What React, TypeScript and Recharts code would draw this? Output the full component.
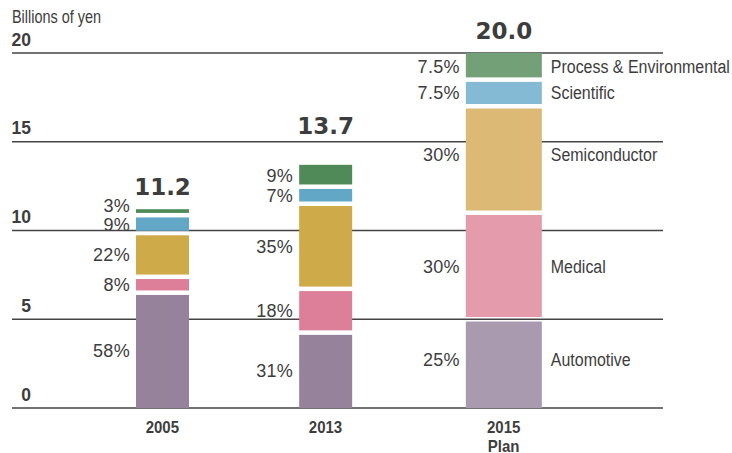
import { BarChart, Bar, XAxis, YAxis, CartesianGrid } from 'recharts';

// Sales by business segment, billions of yen
const years = ['2005', '2013', '2015 Plan'];
const totals = [11.2, 13.7, 20.0];
const automotivePct = [58, 31, 25];
const medicalPct = [8, 18, 30];
const semiconductorPct = [22, 35, 30];
const scientificPct = [9, 7, 7.5];
const processPct = [3, 9, 7.5];
const yTicks = [0, 5, 10, 15, 20];

const SERIES = [
  { key: 'automotive', name: 'Automotive', pct: automotivePct, colors: ['#96829b', '#a99ab0'] },
  { key: 'medical', name: 'Medical', pct: medicalPct, colors: ['#dd7f99', '#e49cad'] },
  { key: 'semiconductor', name: 'Semiconductor', pct: semiconductorPct, colors: ['#cfaa48', '#dcba76'] },
  { key: 'scientific', name: 'Scientific', pct: scientificPct, colors: ['#62a8c6', '#85bad4'] },
  { key: 'process', name: 'Process & Environmental', pct: processPct, colors: ['#4f8a58', '#73a077'] },
];

const data = years.map((year, i) => {
  const row: Record<string, number | string> = { year };
  SERIES.forEach((s) => {
    row[s.key] = (totals[i] * s.pct[i]) / 100;
  });
  return row;
});

const TEXT = '#3d3d3d';
const SANS = "'Liberation Sans', Arimo, Arial, sans-serif";
const WIDE_BOLD = "'DejaVu Sans', sans-serif";

// bar tweaks: the reference spaces and sizes the bars unevenly
const BAR_SHIFT = [0, -7.5, 0];
const BAR_WIDTH = [53, 53, 76];
const TOTAL_GAP = [23, 39, 23];
const HALF_GAP = 2.25;
// small vertical nudges for labels that sit off-centre in the reference
const LABEL_NUDGE: Record<string, number[]> = {
  process: [-7, 0, 0],
  semiconductor: [0, 0, -5],
  automotive: [0, 0, -4],
};

// no condensed face is installed, so squeeze a normal one horizontally
function Condensed({ x, y, scale, size, bold, anchor, children }: any) {
  return (
    <text
      transform={`translate(${x},${y}) scale(${scale},1)`}
      textAnchor={anchor ?? 'start'}
      fontFamily={SANS}
      fontWeight={bold ? 'bold' : 'normal'}
      fontSize={size}
      fill={TEXT}
    >
      {children}
    </text>
  );
}

function makeShape(seriesIdx: number) {
  const s = SERIES[seriesIdx];
  const isBottom = seriesIdx === 0;
  const isTop = seriesIdx === SERIES.length - 1;
  return (props: any) => {
    const { x, y, width, height, index } = props;
    if (height == null || height <= 0) return <g />;
    const cx = x + width / 2 + BAR_SHIFT[index];
    const w = BAR_WIDTH[index];
    const left = cx - w / 2;
    const top = y + (isTop ? 0 : HALF_GAP);
    const bottom = y + height - (isBottom ? 0 : HALF_GAP);
    const mid = y + height / 2 + (LABEL_NUDGE[s.key]?.[index] ?? 0);
    const plan = index === years.length - 1;
    return (
      <g>
        <rect x={left} y={top} width={w} height={Math.max(0, bottom - top)} fill={s.colors[plan ? 1 : 0]} />
        <text
          x={left - 6}
          y={mid + 6.5}
          textAnchor="end"
          fontFamily={SANS}
          fontSize={18}
          letterSpacing={0.3}
          fill={TEXT}
        >
          {`${s.pct[index]}%`}
        </text>
        {plan && (
          <Condensed x={left + w + 9} y={mid + 6.5} scale={0.84} size={19}>
            {s.name}
          </Condensed>
        )}
        {isTop && (
          <text
            x={cx}
            y={y - TOTAL_GAP[index] + 8.5}
            textAnchor="middle"
            fontFamily={WIDE_BOLD}
            fontWeight="bold"
            fontSize={23}
            fill={TEXT}
          >
            {totals[index].toFixed(1)}
          </text>
        )}
      </g>
    );
  };
}

const XTick = (props: any) => {
  const { x, y, payload, index } = props;
  const lines = String(payload.value).split(' ');
  return (
    <g>
      {lines.map((line, k) => (
        <Condensed key={k} x={x + BAR_SHIFT[index]} y={y + 17 + k * 18.5} scale={0.91} size={16.5} bold anchor="middle">
          {line}
        </Condensed>
      ))}
    </g>
  );
};

const YTick = (props: any) => {
  const { y, payload } = props;
  return (
    <text x={31} y={y - 7.5} textAnchor="end" fontFamily={SANS} fontWeight="bold" fontSize={17.5} fill={TEXT}>
      {payload.value}
    </text>
  );
};

export default function App() {
  return (
    <div style={{ position: 'relative', width: 732, height: 453, background: '#fff' }}>
      <style>{'body { margin: 0; }'}</style>
      <BarChart width={732} height={453} data={data} margin={{ top: 53, right: 69, bottom: 0, left: 0 }}>
        <CartesianGrid vertical={false} stroke="#444" strokeWidth={1.3} />
        <XAxis
          dataKey="year"
          height={45}
          axisLine={false}
          tickLine={false}
          interval={0}
          padding={{ left: 65, right: 74 }}
          tick={<XTick />}
        />
        <YAxis
          width={12}
          domain={[0, 20]}
          ticks={yTicks}
          interval={0}
          axisLine={false}
          tickLine={false}
          tick={<YTick />}
        />
        {SERIES.map((s, i) => (
          <Bar
            key={s.key}
            dataKey={s.key}
            stackId="total"
            barSize={53}
            shape={makeShape(i)}
            isAnimationActive={false}
          />
        ))}
        <Condensed x={12} y={22.7} scale={0.78} size={18.5}>
          Billions of yen
        </Condensed>
      </BarChart>
    </div>
  );
}
